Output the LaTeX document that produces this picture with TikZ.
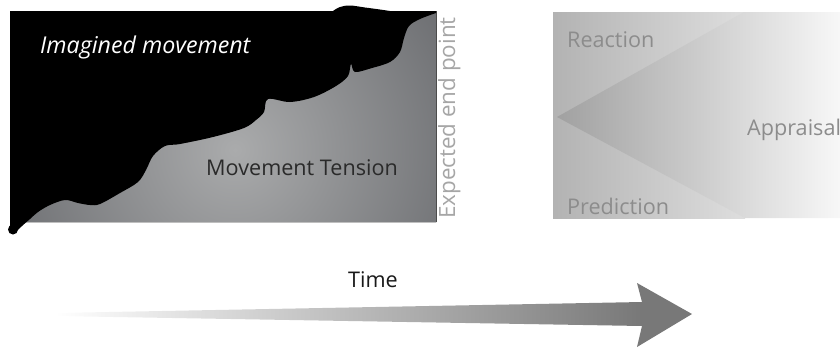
\documentclass[tikz,border=0pt]{standalone}
\usepackage{fontspec}
\setmainfont{Open Sans}
\definecolor{panelIn}{HTML}{AAABAC}
\definecolor{panelOut}{HTML}{43454A}
\definecolor{tensionText}{HTML}{2A2A2A}
\definecolor{endText}{HTML}{A6A6A6}
\definecolor{rightText}{HTML}{8C8C8C}
\definecolor{arrowGray}{HTML}{787878}
\tikzset{
  lbl/.style={inner sep=0pt, anchor=base west, font=\fontsize{21.6}{25}\selectfont},
}
\begin{document}
\begin{tikzpicture}[x=1pt,y=-1pt]
\useasboundingbox (0,0) rectangle (840,349);
% ---------- left panel ----------
\begin{scope}
  \clip (10,11) rectangle (436,222);
  \fill[panelOut] (10,11) rectangle (436,222);
  \shade[inner color=panelIn, outer color=panelOut] (235,150) circle (420);
\end{scope}
\draw[line width=0.8pt, black!70] (436,11) -- (436,222);
\draw[line width=0.6pt, black!25] (10,222) -- (436,222);
% black blob
\fill[black] (10,11) -- (333,11)
  -- plot[smooth, tension=0.6] coordinates {(333,11) (340,7) (350,5.5) (365,7.5) (380,9.5) (390,11)}
  -- (436,11) -- (436,13)
  -- plot[smooth, tension=0.55] coordinates {(436,13) (420,19) (409,26) (404,38) (400,52) (390,62) (372,68) (355,72) (351,64) (348,76) (336,86) (314,97) (290,102) (268,99) (264,112) (256,120) (244,128) (213,137) (180,144) (165,146) (153,156) (146,170) (138,182) (120,193) (100,204) (90,205) (78,203) (65,200) (50,205) (38,212) (30,219) (22,226) (17,231)}
  -- (10,231) -- cycle;
\fill[black] (13,229.5) circle (5);
\node[lbl, text=white, font=\fontsize{23.2}{27}\selectfont\itshape] (imag) at (40,53) {Imagined movement};
\node[lbl, text=tensionText] (tension) at (206,175) {Movement Tension};
\node[lbl, text=endText, rotate=90, font=\fontsize{22.4}{26}\selectfont] (endpt) at (455,219) {Expected end point};
% ---------- right panel ----------
\shade[left color=black!30, right color=black!13] (553,12) rectangle (745,218);
\shade[left color=black!37, right color=black!3] (557,117) -- (744,12) -- (840,12) -- (840,218) -- (745,218) -- cycle;
\node[lbl, text=rightText] (reaction) at (567,47) {Reaction};
\node[lbl, text=rightText] (prediction) at (567,214) {Prediction};
\node[lbl, text=rightText] (appraisal) at (747,135) {Appraisal};
% ---------- time arrow ----------
\node[lbl, text=black!90, anchor=base] (time) at (373,287) {Time};
\shade[left color=white, right color=arrowGray] (55,313) -- (642,302) -- (642,326) -- (55,316) -- cycle;
\fill[arrowGray] (637,283) -- (692,314) -- (637,347) -- (642,326) -- (642,302) -- cycle;
\end{tikzpicture}
\end{document}
